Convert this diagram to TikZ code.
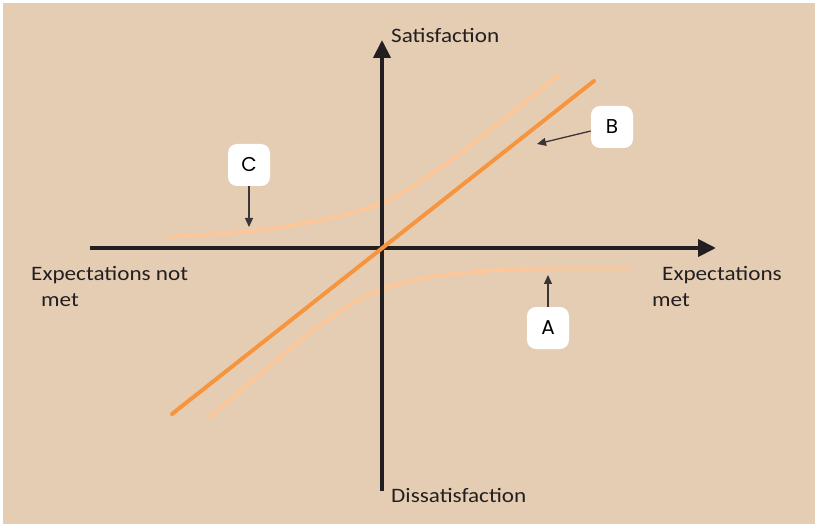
\documentclass[tikz,border=0pt]{standalone}
\usepackage{fontspec}
\setmainfont[FakeStretch=1.13]{Carlito}
\newfontfamily\boxfont{Poppins}
\usetikzlibrary{arrows.meta}
\definecolor{bgtan}{HTML}{E5CDB4}
\definecolor{lightor}{HTML}{FFC797}
\definecolor{strongor}{HTML}{F7953F}
\definecolor{axisdark}{HTML}{231F20}
\definecolor{ptrgrey}{HTML}{3A3536}
\tikzset{
  axisline/.style={draw=axisdark, line width=4pt, -{Triangle[length=18pt,width=17pt]}},
  curvelight/.style={draw=lightor, line width=3.5pt, line cap=round},
  linestrong/.style={draw=strongor, line width=4pt, line cap=round},
  labelbox/.style={fill=white, rounded corners=9pt, minimum width=42pt, minimum height=42pt, inner sep=0pt, font=\boxfont\fontsize{20}{20}\selectfont},
  pointer/.style={draw=ptrgrey, line width=1.3pt, -{Triangle[length=9pt,width=8pt]}},
  axlabel/.style={font=\fontsize{20.5}{22}\selectfont, text=axisdark, inner sep=0pt, anchor=west}
}
\begin{document}
\begin{tikzpicture}[x=1pt,y=-1pt]
\useasboundingbox (0,0) rectangle (815,524);
\fill[white] (0,0) rectangle (815,524);
\fill[bgtan] (3,3) rectangle (815,524);
% curves
\draw[curvelight] plot[smooth, tension=0.6] coordinates {(168,237) (250,231) (320,220) (382,203) (440,168) (500,122) (560,74)};
\draw[curvelight] plot[smooth, tension=0.6] coordinates {(210,417) (260,374) (310,333) (350,305) (382,289) (430,277) (500,270) (560,268.5) (630,268.5)};
% axes
\coordinate (ybot) at (382,491);
\coordinate (ytop) at (382,40);
\coordinate (xleft) at (90,248);
\coordinate (xright) at (716,248);
\draw[axisline] (ybot) -- (ytop);
\draw[axisline] (xleft) -- (xright);
% line B
\coordinate (bstart) at (172,414);
\coordinate (bend) at (594,81);
\draw[linestrong] (bstart) -- (bend);
% labels
\node[axlabel] (sat) at (391,35) {Satisfaction};
\node[axlabel] (dis) at (391,495) {Dissatisfaction};
\node[axlabel] (enm1) at (31,275) {Expectations not};
\node[axlabel] (enm2) at (41,300) {met};
\node[axlabel] (em1) at (662,275) {Expectations};
\node[axlabel] (em2) at (652,300) {met};
% boxes
\node[labelbox] (C) at (249,165) {C};
\node[labelbox] (B) at (612,127) {B};
\node[labelbox] (A) at (548,328) {A};
\coordinate (Ctip) at (249,227);
\coordinate (Btip) at (537,144);
\coordinate (Atip) at (548,275);
\draw[pointer] (C.south) -- (Ctip);
\draw[pointer] (B.west) ++(0,4) -- (Btip);
\draw[pointer] (A.north) -- (Atip);
\end{tikzpicture}
\end{document}
